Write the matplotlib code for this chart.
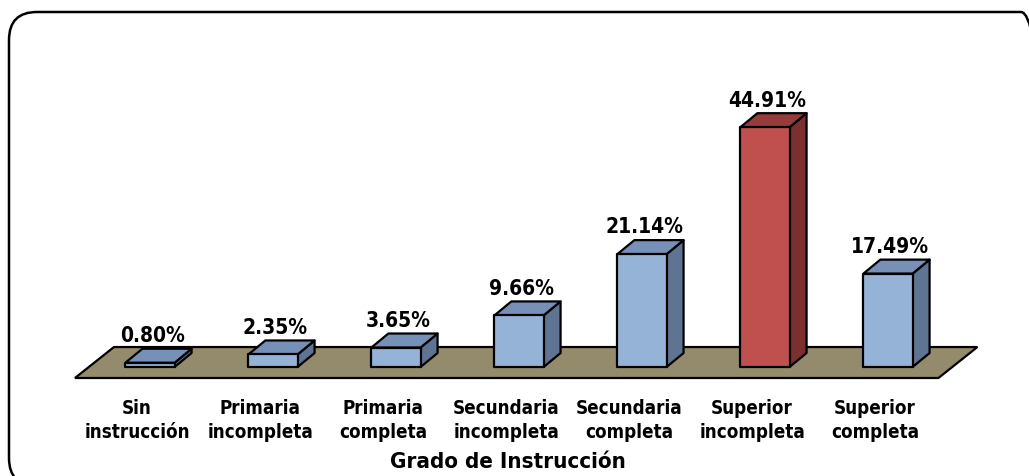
import matplotlib

matplotlib.use("Agg")
import matplotlib.pyplot as plt
from matplotlib.patches import Polygon, FancyBboxPatch
from matplotlib.transforms import IdentityTransform

categories = [
    "Sin\ninstrucción",
    "Primaria\nincompleta",
    "Primaria\ncompleta",
    "Secundaria\nincompleta",
    "Secundaria\ncompleta",
    "Superior\nincompleta",
    "Superior\ncompleta",
]
values = [0.80, 2.35, 3.65, 9.66, 21.14, 44.91, 17.49]
value_labels = ["0.80%", "2.35%", "3.65%", "9.66%", "21.14%", "44.91%", "17.49%"]
highlight = "Superior\nincompleta"
xlabel = "Grado de Instrucción"

plt.rcParams["font.family"] = ["DejaVu Sans"]
plt.rcParams["font.stretch"] = "condensed"

# colours: front, top, side
BLUE = ("#95b3d7", "#7690b8", "#5f7392")
RED = ("#c0504d", "#963c3a", "#7b302e")
FLOOR = "#948a6c"

W, H = 1029, 476
fig = plt.figure(figsize=(W / 100, H / 100), dpi=100)
ax = fig.add_axes([0, 0, 1, 1])
# px per unit: 123 per category, 5.34 per percent
ax.set_xlim(-150 / 123, (W - 150) / 123)
ax.set_ylim(-(H - 367) / 5.34, 367 / 5.34)
ax.axis("off")

# border, in pixels, running off the right and bottom edges
fig.patches.append(FancyBboxPatch((9, -10), 1040, H - 12 + 10, boxstyle="round,pad=0,rounding_size=28",
                                  transform=IdentityTransform(), fc="none", ec="black", lw=1.8))

half = 0.2          # half bar width (category units)
ddx, ddy = 0.138, 2.62  # bar depth offset
fdx, fdy = 0.317, 5.8   # floor depth offset
f_front = -2.06

# floor
x0, x1 = -0.61, 6.41
ax.add_patch(Polygon([(x0, f_front), (x1, f_front), (x1 + fdx, f_front + fdy), (x0 + fdx, f_front + fdy)],
                     closed=True, fc=FLOOR, ec="black", lw=1.6, zorder=1))

for i, (cat, v, lab) in enumerate(zip(categories, values, value_labels)):
    front, top, side = RED if cat == highlight else BLUE
    l, r = i - half, i + half
    kw = dict(closed=True, ec="black", lw=1.6, joinstyle="round", zorder=3)
    ax.add_patch(Polygon([(r, 0), (r + ddx, ddy), (r + ddx, v + ddy), (r, v)], fc=side, **kw))
    ax.add_patch(Polygon([(l, v), (r, v), (r + ddx, v + ddy), (l + ddx, v + ddy)], fc=top, **kw))
    ax.add_patch(Polygon([(l, 0), (r, 0), (r, v), (l, v)], fc=front, **kw))
    ax.text(i + 0.02, v + ddy + 0.5, lab, ha="center", va="bottom", fontsize=15, fontweight="bold", zorder=4)
    ax.text(i - 0.105, -5.9, cat, ha="center", va="top", fontsize=13.5, fontweight="bold",
            linespacing=1.35)

fig.text(508 / W, 1 - 462 / H, xlabel, ha="center", va="center", fontsize=16, fontweight="bold")

fig.savefig("out.png", dpi=100)
plt.close(fig)
